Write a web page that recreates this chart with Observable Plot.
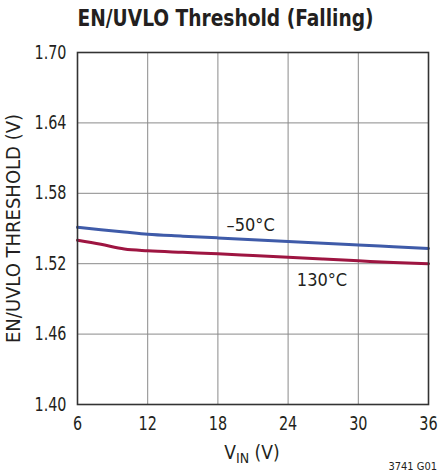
<!DOCTYPE html>
<html>
<head>
<meta charset="utf-8">
<script src="https://cdn.jsdelivr.net/npm/d3@7"></script>
<script src="https://cdn.jsdelivr.net/npm/@observablehq/plot@0.6"></script>
<style>
  html, body { margin: 0; padding: 0; background: #fff; }
  #wrap { position: relative; width: 439px; height: 473px; }
  #title { position: absolute; left: 0; top: 5px; width: 451px; text-align: center;
    font-family: "Liberation Sans Narrow", "DejaVu Sans Condensed", sans-serif; font-weight: bold;
    font-size: 22.5px; color: #231f20; transform: scaleX(0.92); transform-origin: 225.5px 0; white-space: nowrap; }
  #chart { position: absolute; left: 0; top: 0; }
</style>
</head>
<body>
<div id="wrap">
  <div id="chart"></div>
  <div id="title">EN/UVLO Threshold (Falling)</div>
</div>
<script>
const vin = [6, 8, 10, 12, 15, 18, 21, 24, 27, 30, 33, 36];
const cold = [1.551, 1.549, 1.547, 1.545, 1.5435, 1.542, 1.5405, 1.539, 1.5375, 1.536, 1.5345, 1.533];
const hot = [1.540, 1.5365, 1.5325, 1.531, 1.5297, 1.5285, 1.527, 1.5255, 1.524, 1.5225, 1.521, 1.520];
const series = ["–50°C", "130°C"];
const labelX = [20.8, 26.9];
const labelY = [1.553, 1.506];
const xTicks = [6, 12, 18, 24, 30, 36];
const yTicks = [1.40, 1.46, 1.52, 1.58, 1.64, 1.70];
const colors = ["#3f5ba9", "#9e1541"];

const rows = [];
vin.forEach((v, i) => {
  rows.push({v, t: series[0], y: cold[i]});
  rows.push({v, t: series[1], y: hot[i]});
});
const labels = series.map((s, i) => ({s, x: labelX[i], y: labelY[i]}));

const font = '"Liberation Sans Narrow", "DejaVu Sans Condensed", sans-serif';

const plot = Plot.plot({
  width: 439,
  height: 473,
  marginTop: 52,
  marginBottom: 69,
  marginLeft: 77,
  marginRight: 11,
  style: {fontFamily: font, fontSize: "19px", color: "#231f20", background: "#fff"},
  x: {domain: [6, 36], ticks: xTicks, tickSize: 0, tickPadding: 12, label: null, tickFormat: d => String(d)},
  y: {domain: [1.40, 1.70], ticks: yTicks, tickSize: 0, tickPadding: 11, tickFormat: d3.format(".2f"),
      label: "EN/UVLO THRESHOLD (V)", labelAnchor: "center", labelArrow: "none", labelOffset: 72},
  color: {domain: series, range: colors},
  marks: [
    Plot.gridX(xTicks, {stroke: "#8a8a8a", strokeOpacity: 1, strokeWidth: 1}),
    Plot.gridY(yTicks, {stroke: "#8a8a8a", strokeOpacity: 1, strokeWidth: 1}),
    Plot.line(rows, {x: "v", y: "y", z: "t", stroke: "t", strokeWidth: 3, curve: "monotone-x"}),
    Plot.text(labels, {x: "x", y: "y", text: "s", fontSize: 18, fill: "#231f20"}),
    Plot.frame({stroke: "#333", strokeWidth: 1.6})
  ]
});
document.getElementById("chart").appendChild(plot);

// condense tick labels to match the narrow reference typeface
plot.querySelectorAll('[aria-label="x-axis tick label"] text, [aria-label="y-axis tick label"] text').forEach(t => {
  const w = t.getComputedTextLength();
  t.setAttribute("textLength", (w * 0.84).toFixed(1));
  t.setAttribute("lengthAdjust", "spacingAndGlyphs");
});
plot.querySelectorAll('[aria-label="y-axis label"] text').forEach(t => {
  t.setAttribute("font-size", 20);
  t.style.fontSize = "20px";
});

// x-axis label with subscript
const svg = d3.select(plot);
const xl = svg.append("text")
  .attr("x", 252).attr("y", 459)
  .attr("text-anchor", "middle")
  .attr("font-family", font).attr("font-size", 19).attr("fill", "#231f20");
xl.append("tspan").text("V");
xl.append("tspan").attr("font-size", 14).attr("dy", 4).text("IN");
xl.append("tspan").attr("dy", -4).text(" (V)");

svg.append("text")
  .attr("x", 437).attr("y", 470)
  .attr("text-anchor", "end")
  .attr("font-family", font).attr("font-size", 11).attr("fill", "#231f20")
  .text("3741 G01");
</script>
</body>
</html>
